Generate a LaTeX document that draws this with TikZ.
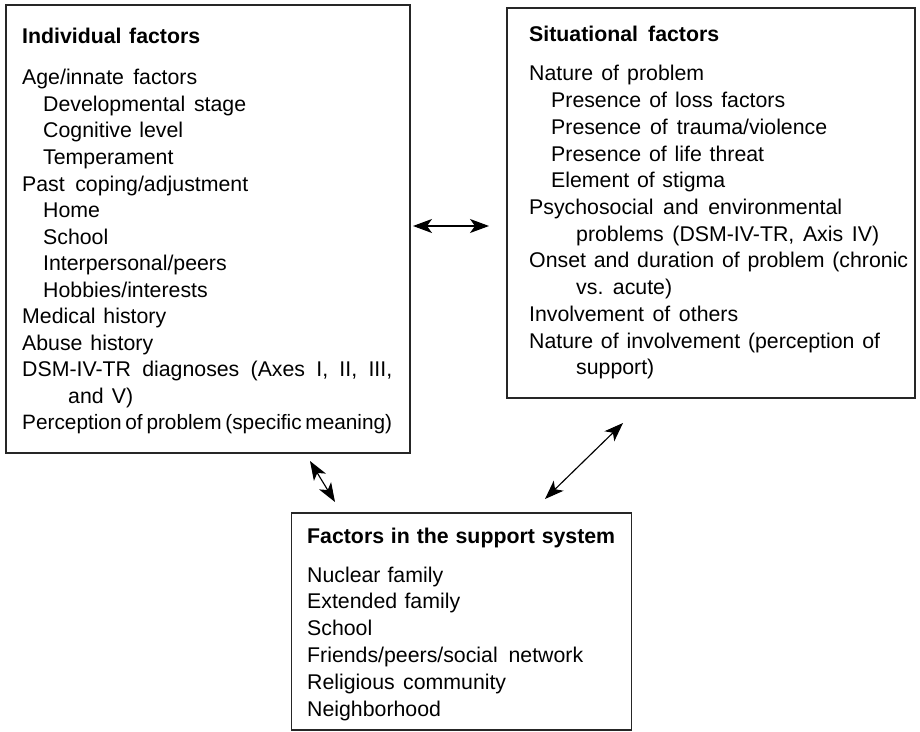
\documentclass[tikz,border=0pt]{standalone}
\usepackage{fontspec}
\setmainfont{Liberation Sans}
\usetikzlibrary{arrows.meta}
\newcommand\factorfont{\fontsize{21.3bp}{26bp}\selectfont\spaceskip=0.3em plus 0.8em minus 0.26em\relax}
\newcommand\tightfont{\fontsize{20.8bp}{26bp}\selectfont\spaceskip=0.2em plus 0.5em minus 0.1em\relax}
% set a line to a given width by stretching or shrinking its word spaces
\newcommand\fitline[2]{\hbox to #1bp{#2}}
\begin{document}
\begin{tikzpicture}[x=1bp,y=-1bp,
  box/.style={draw=black!85, line width=1.3bp, minimum width=#1, inner sep=0pt},
  item/.style={anchor=base west, inner sep=0pt, font=\factorfont},
  head/.style={item, font=\factorfont\bfseries},
  link/.style={line width=1.15bp, {Stealth[length=19bp,width=14bp,inset=5bp]}-{Stealth[length=19bp,width=14bp,inset=5bp]}}
]
\useasboundingbox (0,0) rectangle (920,732);

% the three boxes
\node[box=404bp, minimum height=448bp] (ind) at (208,229) {};
\node[box=408bp, minimum height=390bp] (sit) at (711,203) {};
\node[box=340bp, minimum height=217bp] (sup) at (461.5,621.5) {};

% individual factors
\node[head] (i0) at (22,44) {\fitline{178}{Individual factors}};
\node[item] (i1) at (22,85) {\fitline{175}{Age/innate factors}};
\node[item] (i2) at (43,111.5) {\fitline{203}{Developmental stage}};
\node[item] (i3) at (43,138) {\fitline{140}{Cognitive level}};
\node[item] (i4) at (43,164.5) {Temperament};
\node[item] (i5) at (22,191) {\fitline{226}{Past coping/adjustment}};
\node[item] (i6) at (43,217.5) {Home};
\node[item] (i7) at (43,244) {School};
\node[item] (i8) at (43,270.5) {Interpersonal/peers};
\node[item] (i9) at (43,297) {Hobbies/interests};
\node[item] (i10) at (22,323.5) {\fitline{144}{Medical history}};
\node[item] (i11) at (22,350) {\fitline{131}{Abuse history}};
\node[item] (i12) at (22,376.5) {\fitline{370}{DSM-IV-TR diagnoses (Axes I, II, III,}};
\node[item] (i13) at (68,403) {\fitline{65}{and V)}};
\node[item, font=\tightfont] (i14) at (22,429.5) {\fitline{370}{Perception of problem (specific meaning)}};

% situational factors
\node[head] (s0) at (529,42) {\fitline{190}{Situational factors}};
\node[item] (s1) at (529,81) {\fitline{175}{Nature of problem}};
\node[item] (s2) at (551,107.7) {\fitline{234}{Presence of loss factors}};
\node[item] (s3) at (551,134.4) {\fitline{276}{Presence of trauma/violence}};
\node[item] (s4) at (551,161.1) {\fitline{213}{Presence of life threat}};
\node[item] (s5) at (551,187.8) {\fitline{174}{Element of stigma}};
\node[item] (s6) at (529,214.5) {\fitline{313}{Psychosocial and environmental}};
\node[item] (s7) at (576,241.2) {\fitline{303}{problems (DSM-IV-TR, Axis IV)}};
\node[item] (s8) at (529,267.9) {\fitline{379}{Onset and duration of problem (chronic}};
\node[item] (s9) at (576,294.6) {\fitline{96}{vs. acute)}};
\node[item] (s10) at (529,321.3) {\fitline{209}{Involvement of others}};
\node[item] (s11) at (529,348) {\fitline{351}{Nature of involvement (perception of}};
\node[item] (s12) at (576,374.7) {support)};

% support system
\node[head] (f0) at (307,543) {\fitline{308}{Factors in the support system}};
\node[item] (f1) at (307,582) {\fitline{136}{Nuclear family}};
\node[item] (f2) at (307,608.8) {\fitline{153}{Extended family}};
\node[item] (f3) at (307,635.6) {School};
\node[item] (f4) at (307,662.4) {\fitline{276}{Friends/peers/social network}};
\node[item] (f5) at (307,689.2) {\fitline{199}{Religious community}};
\node[item] (f6) at (307,716) {Neighborhood};

% arrow ends
\coordinate (is1) at (413,226);
\coordinate (is2) at (489,226);
\coordinate (iu1) at (310,461);
\coordinate (iu2) at (335,502);
\coordinate (su1) at (623,423);
\coordinate (su2) at (545,499);

\draw[link] (is1) -- (is2);
\draw[link] (iu1) -- (iu2);
\draw[link] (su1) -- (su2);
\end{tikzpicture}
\end{document}
